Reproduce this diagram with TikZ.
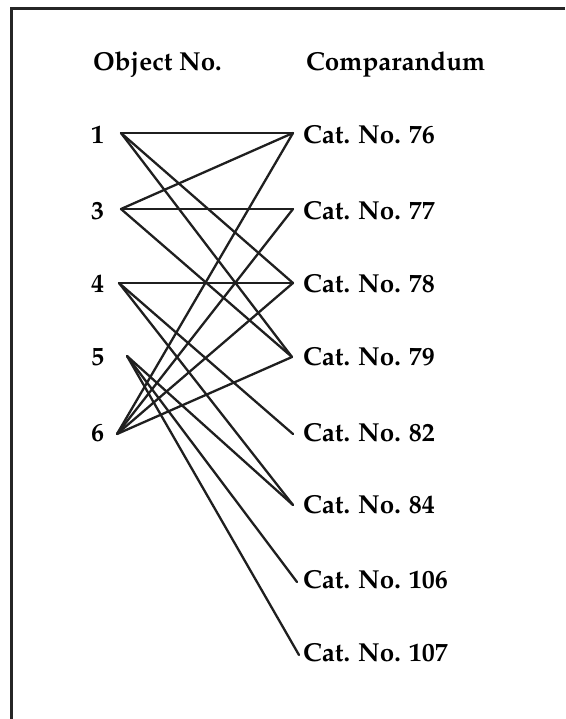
\documentclass[tikz,border=0pt]{standalone}
\usepackage[T1]{fontenc}
\usepackage{mathpazo}
\begin{document}
\begin{tikzpicture}[x=1pt,y=-1pt,
  lbl/.style={anchor=base west,inner sep=0pt,font=\fontsize{26}{29}\selectfont\bfseries},
  link/.style={line width=2.3pt,line cap=round,line join=round,color=black!88},
  frameline/.style={line width=3pt,color=black!85}]
\useasboundingbox (0,0) rectangle (565,719);
\coordinate (ftl) at (11,9);
\coordinate (ftr) at (565,9);
\coordinate (fbl) at (11,719);
\draw[frameline] (ftr) -- (ftl) -- (fbl);
% headers
\node[lbl] (hobj) at (93,71) {Object No.};
\node[lbl] (hcmp) at (306,71) {Comparandum};
% left labels
\node[lbl] (o1) at (91,144) {1};
\node[lbl] (o3) at (91,219) {3};
\node[lbl] (o4) at (91,292) {4};
\node[lbl] (o5) at (91,365) {5};
\node[lbl] (o6) at (91,441) {6};
% right labels
\node[lbl] (c76) at (303,144) {Cat. No. 76};
\node[lbl] (c77) at (303,219) {Cat. No. 77};
\node[lbl] (c78) at (303,292) {Cat. No. 78};
\node[lbl] (c79) at (303,365) {Cat. No. 79};
\node[lbl] (c82) at (303,441) {Cat. No. 82};
\node[lbl] (c84) at (303,513) {Cat. No. 84};
\node[lbl] (c106) at (303,588) {Cat. No. 106};
\node[lbl] (c107) at (303,661) {Cat. No. 107};
% endpoints
\coordinate (p1) at (121,133);
\coordinate (p3) at (121,209);
\coordinate (p4) at (119,283);
\coordinate (p5) at (127,356);
\coordinate (p6) at (117,434);
\coordinate (q76) at (293,133);
\coordinate (q77) at (293,209);
\coordinate (q78) at (293,283);
\coordinate (q79) at (292,357);
\coordinate (q82) at (293,434);
\coordinate (q84) at (293,505);
\coordinate (q106) at (297,582);
\coordinate (q107) at (299,655);
% links
\draw[link] (p1) -- (q76);
\draw[link] (p1) -- (q78);
\draw[link] (p1) -- (q79);
\draw[link] (p3) -- (q76);
\draw[link] (p3) -- (q77);
\draw[link] (p3) -- (q79);
\draw[link] (p4) -- (q78);
\draw[link] (p4) -- (q82);
\draw[link] (p4) -- (q84);
\draw[link] (p5) -- (q84);
\draw[link] (p5) -- (q106);
\draw[link] (p5) -- (q107);
\draw[link] (p6) -- (q76);
\draw[link] (p6) -- (q77);
\draw[link] (p6) -- (q78);
\draw[link] (p6) -- (q79);
\end{tikzpicture}
\end{document}
